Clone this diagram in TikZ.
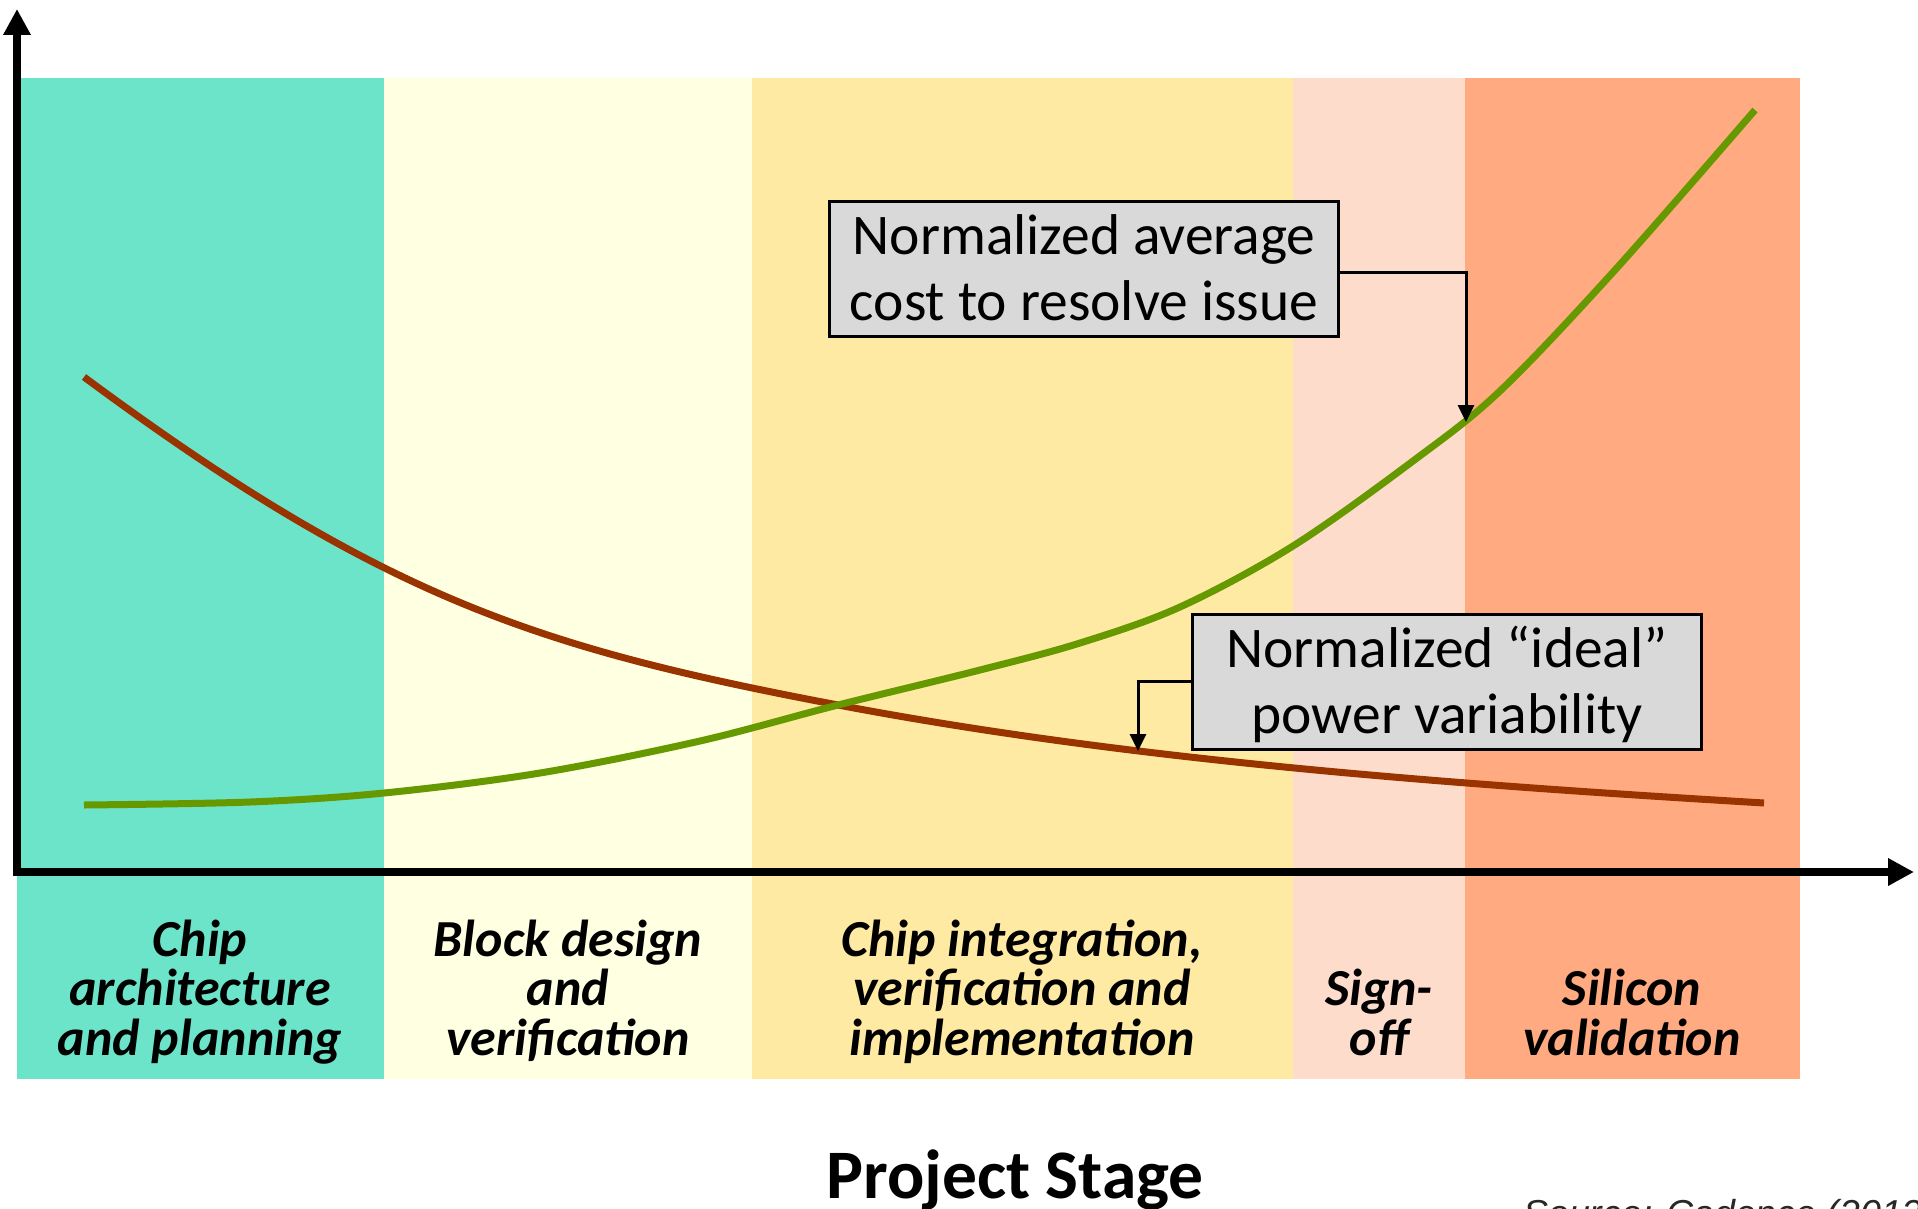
\documentclass[tikz,border=0pt]{standalone}
\usepackage{fontspec}
\setmainfont{Carlito}
\newfontfamily\sourcefont{Liberation Sans}
\usetikzlibrary{arrows.meta}

\definecolor{bandTeal}{RGB}{108,228,201}
\definecolor{bandCream}{RGB}{255,255,226}
\definecolor{bandGold}{RGB}{255,234,164}
\definecolor{bandPeach}{RGB}{253,220,203}
\definecolor{bandOrange}{RGB}{255,170,128}
\definecolor{costGreen}{RGB}{102,153,0}
\definecolor{powerRed}{RGB}{153,51,0}
\definecolor{calloutGray}{RGB}{217,217,217}
\definecolor{sourceGray}{RGB}{40,40,40}

\begin{document}
\begin{tikzpicture}[x=1pt,y=-1pt,
  axis/.style={line width=8pt, -{Triangle[length=26pt,width=26pt]}},
  curve/.style={line width=7pt, line cap=butt, line join=round},
  callout/.style={draw=black, line width=3pt, fill=calloutGray, inner sep=0pt,
    align=center, minimum width=509pt, anchor=north,
    font=\fontsize{57.5}{66}\selectfont, text height=119pt, text depth=15.5pt},
  leader/.style={line width=3pt, -{Triangle[length=17pt,width=16pt]}},
  stage/.style={font=\bfseries\itshape\fontsize{52}{49.5}\selectfont,
    align=center, anchor=base, inner sep=0pt}]

\useasboundingbox (0,0) rectangle (1918,1209);
\fill[white] (0,0) rectangle (1918,1209);

% project stage bands
\fill[bandTeal]   (17,78)   rectangle (384,1079);
\fill[bandCream]  (384,78)  rectangle (752,1079);
\fill[bandGold]   (752,78)  rectangle (1293,1079);
\fill[bandPeach]  (1293,78) rectangle (1465,1079);
\fill[bandOrange] (1465,78) rectangle (1800,1079);

% normalized "ideal" power variability
\draw[curve, powerRed] (84,377) .. controls (384,599) and (538,648) .. (838,705)
  .. controls (1138,762) and (1464,785) .. (1764,803);

% normalized average cost to resolve an issue
\draw[curve, costGreen] plot[smooth, tension=0.55] coordinates {
  (84,805) (250,802) (384,793) (540,773) (700,741) (838,705) (980,670)
  (1080,643) (1180,607) (1293,546) (1413,461) (1500,391) (1615,270) (1755,110)};

% points picked out on the curves
\coordinate (costPt) at (1466,422);
\coordinate (powerPt) at (1138,751);

% callouts
\node[callout] (costBox) at (1084,200) {Normalized average\\cost to resolve issue};
\node[callout] (powerBox) at (1447,613) {Normalized “ideal”\\power variability};
\draw[leader] ([yshift=-4pt]costBox.east) -| (costPt);
\draw[leader] (powerBox.west) -| (powerPt);

% axes
\draw[axis] (17,876) -- (17,9);
\draw[axis] (13,872) -- (1914,872);

% stage labels (anchored on the baseline of their last line)
\node[stage] (stArch)  at (200,1055)  {Chip\\architecture\\and planning};
\node[stage] (stBlock) at (568,1055)  {Block design\\and\\verification};
\node[stage] (stInteg) at (1022,1055) {Chip integration,\\verification and\\implementation};
\node[stage] (stSign)  at (1379,1055) {Sign-\\off};
\node[stage] (stSil)   at (1632,1055) {Silicon\\validation};

% axis title and source
\node[font=\bfseries\fontsize{69.5}{80}\selectfont, anchor=base, inner sep=0pt] (xTitle) at (1015,1198) {Project Stage};
\node[font=\sourcefont\itshape\fontsize{37.5}{45}\selectfont, text=sourceGray, anchor=base west, inner sep=0pt] (src) at (1523,1226) {Source: Cadence (2012)};
\end{tikzpicture}
\end{document}
